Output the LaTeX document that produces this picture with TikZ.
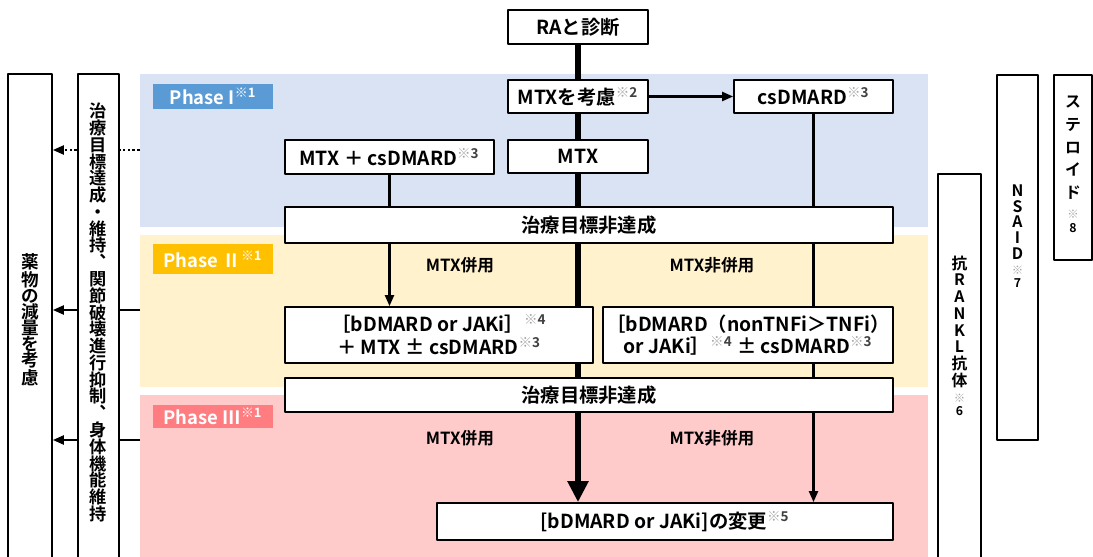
\documentclass[tikz,border=0pt]{standalone}
\usepackage{fontspec}
\setmainfont{Noto Sans CJK JP}[BoldFont={Noto Sans CJK JP Bold}]
\usetikzlibrary{arrows.meta,shadows}
\definecolor{bandblue}{HTML}{DAE3F3}
\definecolor{bandyellow}{HTML}{FFF2CC}
\definecolor{bandpink}{HTML}{FFCACA}
\definecolor{phaseblue}{HTML}{5B9BD5}
\definecolor{phaseorange}{HTML}{FFC000}
\definecolor{phasepink}{HTML}{FF7C80}
\definecolor{komegray}{HTML}{A6A6A6}
\newcommand{\kome}[1]{\textsuperscript{\textcolor{komegray}{※}\textcolor{black!75}{#1}}}
\newcommand{\tatekome}{{\fontsize{6.5}{7}\selectfont\color{komegray}※}}
\tikzset{
  box/.style={draw,fill=white,line width=1pt,inner sep=0pt,align=center,
    drop shadow={shadow xshift=0.7pt,shadow yshift=-0.7pt,opacity=0.5}},
  phase/.style={fill=#1,text=white,minimum width=2.4cm,inner sep=0pt,
    font=\fontsize{10.5}{12}\selectfont\bfseries},
  tate/.style={align=center,inner sep=0pt},
  thickline/.style={line width=3.6pt},
  thinline/.style={line width=1.25pt},
  lab/.style={font=\fontsize{9.5}{11}\selectfont\bfseries},
}
\begin{document}
\begin{tikzpicture}[x=0.02cm,y=-0.02cm,line join=round,font=\fontsize{11}{13}\selectfont\bfseries,
  >={Triangle[length=0.22cm,width=0.18cm]}]
\useasboundingbox (0,0) rectangle (1093,557);
% phase bands
\fill[bandblue] (140,74) rectangle (928,227);
\fill[bandyellow] (140,235) rectangle (928,387);
\fill[bandpink] (140,395) rectangle (928,560);
\node[phase=phaseblue,minimum height=0.5cm] (ph1) at (213,96.5) {Phase I\textsuperscript{※1}};
\node[phase=phaseorange,minimum height=0.6cm] (ph2) at (213,259) {Phase Ⅱ\textsuperscript{※1}};
\node[phase=phasepink,minimum height=0.46cm] (ph3) at (213,416.5) {Phase Ⅲ\textsuperscript{※1}};
% main flow
\node[box,minimum width=2.8cm,minimum height=0.68cm] (ra) at (578,27) {RAと診断};
\node[box,minimum width=2.8cm,minimum height=0.66cm] (mtxc) at (578,96.5) {MTXを考慮\kome{2}};
\node[box,minimum width=3.18cm,minimum height=0.66cm] (cs) at (813.5,96.5) {csDMARD\kome{3}};
\node[box,minimum width=2.8cm,minimum height=0.66cm] (mtx) at (578,156.5) {MTX};
\node[box,minimum width=4.18cm,minimum height=0.68cm] (mtxcs) at (389.5,157) {MTX ＋ csDMARD\kome{3}};
\node[box,minimum width=12.16cm,minimum height=0.72cm] (fail1) at (589,225) {治療目標非達成};
\node[box,minimum width=6.16cm,minimum height=1.12cm] (bj) at (439,335)
  {［bDMARD or JAKi］\kome{4}\\＋ MTX ± csDMARD\kome{3}};
\node[box,minimum width=5.8cm,minimum height=1.12cm] (bn) at (748,335)
  {［bDMARD（nonTNFi＞TNFi）\\or JAKi］\kome{4} ± csDMARD\kome{3}};
\node[box,minimum width=12.16cm,minimum height=0.68cm] (fail2) at (589,395) {治療目標非達成};
\node[box,minimum width=9.12cm,minimum height=0.74cm] (chg) at (665,521.5) {[bDMARD or JAKi]の変更\kome{5}};
\node[lab] (w1) at (460,265) {MTX併用};
\node[lab] (n1) at (712,265) {MTX非併用};
\node[lab] (w2) at (460,438) {MTX併用};
\node[lab] (n2) at (712,438) {MTX非併用};
% side boxes
\node[box,minimum width=0.88cm,minimum height=9.76cm] (gen) at (30,318) {};
\node[tate,font=\fontsize{10}{9.1}\selectfont\bfseries] (gentxt) at (30,320)
  {薬\\物\\の\\減\\量\\を\\考\\慮};
\node[box,minimum width=0.82cm,minimum height=9.76cm] (goal) at (98.5,318) {};
\node[tate,font=\fontsize{9.8}{9.55}\selectfont\bfseries] (goaltxt) at (98.5,312.5)
  {治\\療\\目\\標\\達\\成\\・\\維\\持\\︑\\関\\節\\破\\壊\\進\\行\\抑\\制\\︑\\身\\体\\機\\能\\維\\持};
\node[box,minimum width=0.86cm,minimum height=7.76cm] (rankl) at (959.5,368) {};
\node[tate,font=\fontsize{9}{9.5}\selectfont\bfseries] (rankltxt) at (959.5,336)
  {抗\\R\\A\\N\\K\\L\\抗\\体\\\tatekome\\[-2pt]{\scriptsize 6}};
\node[box,minimum width=0.82cm,minimum height=7.3cm] (nsaid) at (1017.5,257.5) {};
\node[tate,font=\fontsize{9}{8.9}\selectfont\bfseries] (nsaidtxt) at (1017.5,236)
  {N\\S\\A\\I\\D\\\tatekome\\[-2pt]{\scriptsize 7}};
\node[box,minimum width=0.76cm,minimum height=3.7cm] (ster) at (1073,167.5) {};
\node[tate,font=\fontsize{9}{13}\selectfont\bfseries] (stertxt) at (1073,164)
  {ス\\テ\\ロ\\イ\\ド\\[-2pt]\tatekome\\[-5pt]{\scriptsize 8}};
% connectors
\draw[thickline] (ra) -- (mtxc);
\draw[thickline] (mtxc) -- (mtx);
\draw[thickline] (mtx) -- (mtx.south |- fail1.north);
\draw[thinline,->] (mtxc) -- (cs);
\draw[thinline] (cs) -- (cs.south |- fail1.north);
\draw[thinline] (mtxcs) -- (mtxcs.south |- fail1.north);
\draw[thinline,->] (mtxcs.south |- fail1.south) -- (mtxcs.south |- bj.north);
\draw[thickline] (mtx.south |- fail1.south) -- (mtx.south |- bj.north);
\draw[thickline] (mtx.south |- bj.south) -- (mtx.south |- fail2.north);
\draw[thickline,-{Triangle[length=0.42cm,width=0.4cm]}] (mtx.south |- fail2.south) -- (mtx.south |- chg.north);
\draw[thinline] (cs.south |- fail1.south) -- (cs.south |- bn.north);
\draw[thinline] (cs.south |- bn.south) -- (cs.south |- fail2.north);
\draw[thinline,->] (cs.south |- fail2.south) -- (cs.south |- chg.north);
% to the goal
\coordinate (e1) at (140,150);
\coordinate (e2) at (140,310);
\coordinate (e3) at (140,440);
\draw[thinline,dash pattern=on 1.5pt off 1.3pt] (e1) -- (e1 -| goal.east);
\draw[thinline,dash pattern=on 1.5pt off 1.3pt,->] (e1 -| goal.west) -- (e1 -| gen.east);
\foreach \e in {e2,e3}{
  \draw[thinline] (\e) -- (\e -| goal.east);
  \draw[thinline,->] (\e -| goal.west) -- (\e -| gen.east);
}
\end{tikzpicture}
\end{document}
